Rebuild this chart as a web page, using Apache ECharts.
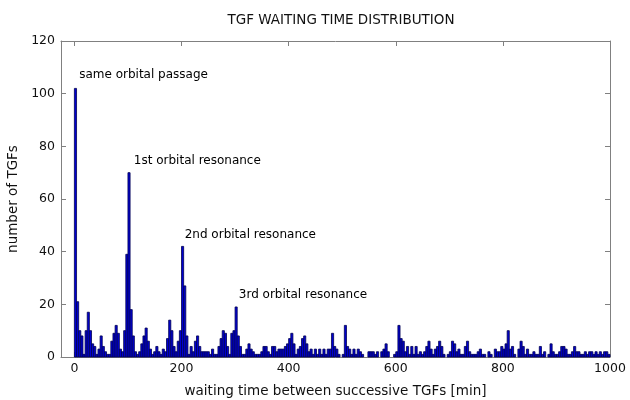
<!DOCTYPE html>
<html><head><meta charset="utf-8">
<script src="https://cdn.jsdelivr.net/npm/echarts@6/dist/echarts.min.js"></script>
<style>html,body{margin:0;padding:0;background:#fff}#c{width:630px;height:400px}</style>
</head><body><div id="c"></div>
<script>
// Histogram of TGF waiting times, 4-minute bins from 0 to 1000 min
const BIN_WIDTH = 4;
const counts000to100 = [102,21,10,8,1,10,17,10,5,4,1,3,8,4,2,1,1,6,9,12,9,3,2,10,39];
const counts100to200 = [70,18,8,2,1,2,5,8,11,6,3,1,2,4,2,1,3,2,7,14,10,4,2,6,10];
const counts200to300 = [42,27,8,1,4,2,6,8,4,2,2,2,2,1,3,1,1,4,7,10,9,4,1,9,10];
const counts300to400 = [19,8,4,1,1,3,5,3,2,1,1,1,2,4,4,2,1,4,4,2,3,3,3,4,5];
const counts400to500 = [7,9,5,1,3,4,7,8,5,2,3,1,3,1,3,1,3,1,3,3,9,4,3,1,0];
const counts500to600 = [1,12,4,3,1,3,1,3,2,1,0,0,2,2,2,1,2,0,2,3,5,2,0,0,1];
const counts600to700 = [2,12,7,6,2,4,1,4,1,4,1,2,1,2,4,6,3,1,3,4,6,4,1,0,1];
const counts700to800 = [2,6,5,2,3,1,1,4,6,2,1,1,1,2,3,1,1,0,2,1,0,3,2,2,4];
const counts800to900 = [3,5,10,3,4,1,0,3,6,4,1,3,1,1,2,1,1,4,1,2,0,1,5,2,1];
const counts900to1000 = [1,2,4,4,3,1,1,2,4,2,2,1,1,2,1,2,2,1,2,1,2,1,2,2,1];

const xTicks = [0,200,400,600,800,1000];

const annotationTexts = ['same orbital passage','1st orbital resonance','2nd orbital resonance','3rd orbital resonance'];
const annotationX = [8, 110, 205, 306];
const annotationY = [107, 74.5, 46.5, 23.5];

const allCounts = [].concat(counts000to100,counts100to200,counts200to300,counts300to400,counts400to500,
  counts500to600,counts600to700,counts700to800,counts800to900,counts900to1000);
const histData = allCounts.map((c,i)=>[i*BIN_WIDTH,(i+1)*BIN_WIDTH,c]);
const annData = annotationTexts.map((t,i)=>({name:t,value:[annotationX[i],annotationY[i]]}));

const FONT = 'DejaVu Sans';
const AX = '#808080';
const line = {show:true,onZero:false,lineStyle:{color:AX,width:1}};
const chart = echarts.init(document.getElementById('c'));
chart.setOption({
  animation:false,
  backgroundColor:'#fff',
  title:{text:'TGF WAITING TIME DISTRIBUTION',left:336,textAlign:'center',top:8,
    textStyle:{fontFamily:FONT,fontSize:13.5,fontWeight:'normal',color:'#111'}},
  grid:{left:61,right:20,top:41,bottom:43,containLabel:false,outerBoundsMode:'none'},
  xAxis:[{type:'value',min:-25,max:1000,position:'bottom',
      axisLine:line,
      axisTick:{show:true,inside:true,length:5,lineStyle:{color:AX},customValues:xTicks},
      axisLabel:{customValues:xTicks,formatter:v=>String(v),fontFamily:FONT,fontSize:12.5,color:'#111',margin:5},
      splitLine:{show:false},
      name:'waiting time between successive TGFs [min]',nameLocation:'middle',nameGap:27,
      nameTextStyle:{fontFamily:FONT,fontSize:13.5,color:'#111'}},
    {type:'value',min:-25,max:1000,position:'top',
      axisLine:line,
      axisTick:{show:true,inside:true,length:5,lineStyle:{color:AX},customValues:xTicks},
      axisLabel:{show:false},splitLine:{show:false}}],
  yAxis:[{type:'value',min:0,max:120,interval:20,position:'left',
      axisLine:line,
      axisTick:{show:true,inside:true,length:5,lineStyle:{color:AX}},
      axisLabel:{fontFamily:FONT,fontSize:12.5,color:'#111',margin:6},
      splitLine:{show:false},
      name:'number of TGFs',nameLocation:'middle',nameGap:35,
      nameTextStyle:{fontFamily:FONT,fontSize:13.5,color:'#111'}},
    {type:'value',min:0,max:120,interval:20,position:'right',
      axisLine:line,
      axisTick:{show:true,inside:true,length:5,lineStyle:{color:AX}},
      axisLabel:{show:false},splitLine:{show:false}}],
  series:[{
    type:'custom',xAxisIndex:0,yAxisIndex:0,
    encode:{x:[0,1],y:2},
    data:histData,
    renderItem:function(params,api){
      const x0=api.value(0),x1=api.value(1),y=api.value(2);
      if(!y) return;
      const p0=api.coord([x0,y]);
      const p1=api.coord([x1,0]);
      return {type:'rect',shape:{x:p0[0],y:p0[1],width:p1[0]-p0[0],height:p1[1]-p0[1]},
        style:{fill:'#0000d0',stroke:'#000050',lineWidth:0.8}};
    }
  },{
    type:'scatter',xAxisIndex:0,yAxisIndex:0,symbolSize:1,
    itemStyle:{color:'#ffffff',opacity:1},
    data:annData,silent:true,
    label:{show:true,position:'right',distance:0,formatter:'{b}',
      fontFamily:FONT,fontSize:12,color:'#000',opacity:1,textBorderWidth:0}
  }]
});
</script></body></html>
